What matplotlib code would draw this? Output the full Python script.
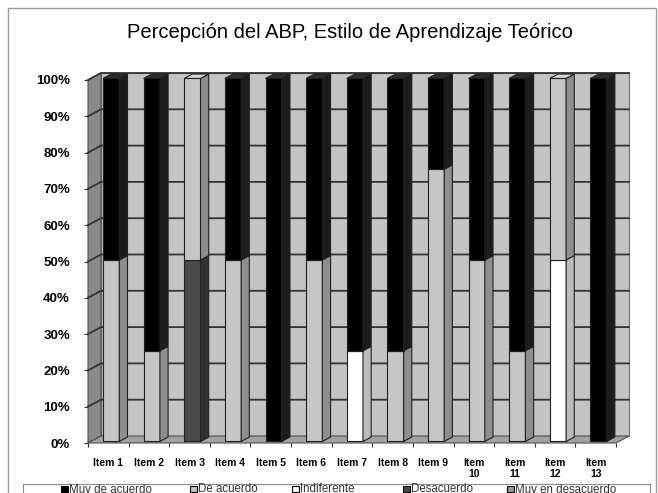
"""
Percepción del ABP - columnas apiladas 100% con efecto 3D (estilo Excel)
"""
import matplotlib
matplotlib.use('Agg')
import matplotlib.pyplot as plt
import matplotlib.patches as patches
from matplotlib.patches import Polygon

plt.rcParams['font.family'] = ['Liberation Sans', 'DejaVu Sans']

items = ['Item 1', 'Item 2', 'Item 3', 'Item 4', 'Item 5', 'Item 6', 'Item 7',
         'Item 8', 'Item 9', 'Item\n10', 'Item\n11', 'Item\n12', 'Item\n13']

# porcentajes por categoría de respuesta
muy_de_acuerdo    = [50, 75, 0, 50, 100, 50, 75, 75, 25, 50, 75, 0, 100]
de_acuerdo        = [50, 25, 50, 50, 0, 50, 0, 25, 75, 50, 25, 50, 0]
indiferente       = [0, 0, 0, 0, 0, 0, 25, 0, 0, 0, 0, 50, 0]
desacuerdo        = [0, 0, 50, 0, 0, 0, 0, 0, 0, 0, 0, 0, 0]
muy_en_desacuerdo = [0, 0, 0, 0, 0, 0, 0, 0, 0, 0, 0, 0, 0]

legend_labels = ['Muy de acuerdo', 'De acuerdo', 'Indiferente', 'Desacuerdo',
                 'Muy en desacuerdo']

# (frente, lateral, superior)
colors = {
    'Muy de acuerdo': ('#000000', '#1c1c1c', '#2e2e2e'),
    'De acuerdo': ('#c6c6c6', '#8e8e8e', '#d6d6d6'),
    'Indiferente': ('#ffffff', '#bcbcbc', '#f0f0f0'),
    'Desacuerdo': ('#4a4a4a', '#303030', '#5a5a5a'),
    'Muy en desacuerdo': ('#999999', '#6e6e6e', '#aaaaaa'),
}

# orden de apilado de abajo hacia arriba
stack = [('Muy en desacuerdo', muy_en_desacuerdo), ('Desacuerdo', desacuerdo),
         ('Indiferente', indiferente), ('De acuerdo', de_acuerdo),
         ('Muy de acuerdo', muy_de_acuerdo)]

W, H = 658, 493
fig = plt.figure(figsize=(W / 100, H / 100), dpi=100)
fig.patch.set_facecolor('white')

def fig_rect(x, y_top, w, h, **kw):
    # rectángulo en píxeles (origen arriba a la izquierda)
    r = patches.Rectangle((x / W, 1 - (y_top + h) / H), w / W, h / H,
                          transform=fig.transFigure, **kw)
    fig.patches.append(r)

# borde exterior del gráfico
fig_rect(8, 8, 648, 500, fill=False, edgecolor='#9a9a9a', linewidth=1)

ax = fig.add_axes([88 / W, 1 - 443 / H, 528 / W, 363 / H])
x0, x1 = -0.5, len(items) - 0.5
ax.set_xlim(x0, x1)
ax.set_ylim(0, 100)
ax.patch.set_visible(False)
for s in ax.spines.values():
    s.set_visible(False)

# profundidad 3D en unidades de datos
DX, DY = 0.32, 1.93
bar_w = 0.4
f_front, f_back = 0.22, 0.85

def poly(pts, fc, ec='#202020', lw=0.8, z=1):
    ax.add_patch(Polygon(pts, closed=True, facecolor=fc, edgecolor=ec,
                         linewidth=lw, zorder=z, clip_on=False))

# paredes y suelo
poly([(x0 + DX, DY), (x1 + DX, DY), (x1 + DX, 100 + DY), (x0 + DX, 100 + DY)],
     '#c4c4c4', ec='#707070', lw=0.8, z=0)
poly([(x0, 0), (x0 + DX, DY), (x0 + DX, 100 + DY), (x0, 100)],
     '#8a8a8a', ec='#505050', lw=0.8, z=0)
poly([(x0, 0), (x1, 0), (x1 + DX, DY), (x0 + DX, DY)],
     '#a2a2a2', ec='#505050', lw=0.8, z=0)

yt = list(range(0, 101, 10))
for v in yt[1:]:
    ax.plot([x0, x0 + DX, x1 + DX], [v, v + DY, v + DY], color='#333333',
            linewidth=1.3, zorder=0.5, clip_on=False)

# columnas
for i in range(len(items)):
    bottom = 0
    xl = i - bar_w / 2 + DX * f_front
    xr = xl + bar_w
    yb = DY * f_front
    ddx, ddy = DX * (f_back - f_front), DY * (f_back - f_front)
    top_color = None
    for name, vals in stack:
        v = vals[i]
        if v <= 0:
            continue
        front, side, top = colors[name]
        y0, y1 = bottom + yb, bottom + v + yb
        poly([(xl, y0), (xr, y0), (xr, y1), (xl, y1)], front, z=2)
        poly([(xr, y0), (xr + ddx, y0 + ddy), (xr + ddx, y1 + ddy), (xr, y1)],
             side, z=2)
        top_color = top
        bottom += v
    if top_color is not None:
        y1 = bottom + yb
        poly([(xl, y1), (xr, y1), (xr + ddx, y1 + ddy), (xl + ddx, y1 + ddy)],
             top_color, z=2)

# ejes
ax.set_yticks(yt)
ax.set_yticklabels([f'{v}%' for v in yt], fontsize=9.5, fontweight='bold')
ax.tick_params(axis='y', length=3, width=0.8, color='#333333', pad=10)
ax.set_xticks([k - 0.5 for k in range(len(items) + 1)])
ax.set_xticklabels([])
ax.tick_params(axis='x', which='major', length=3, width=0.8, color='#333333')
ax.set_xticks(range(len(items)), minor=True)
ax.set_xticklabels(items, minor=True, fontsize=7.5, fontweight='bold',
                   linespacing=1.1)
ax.tick_params(axis='x', which='minor', length=0, pad=11)

fig.text(350 / W, 1 - 33 / H, 'Percepción del ABP, Estilo de Aprendizaje Teórico',
         ha='center', va='center', fontsize=14.5)

# leyenda (recortada por el borde inferior, como en el original)
fig_rect(23, 484, 627, 30, facecolor='white', edgecolor='#8a8a8a', linewidth=0.8)
legend_x = [61, 190, 292, 403, 507]
for lx, name in zip(legend_x, legend_labels):
    fig_rect(lx, 485.5, 6.5, 6.5, facecolor=colors[name][0], edgecolor='black',
             linewidth=0.8)
    fig.text((lx + 8) / W, 1 - 492.5 / H, name, ha='left', va='baseline',
             fontsize=8.3, color='#333333')

fig.savefig('out.png', dpi=100)
